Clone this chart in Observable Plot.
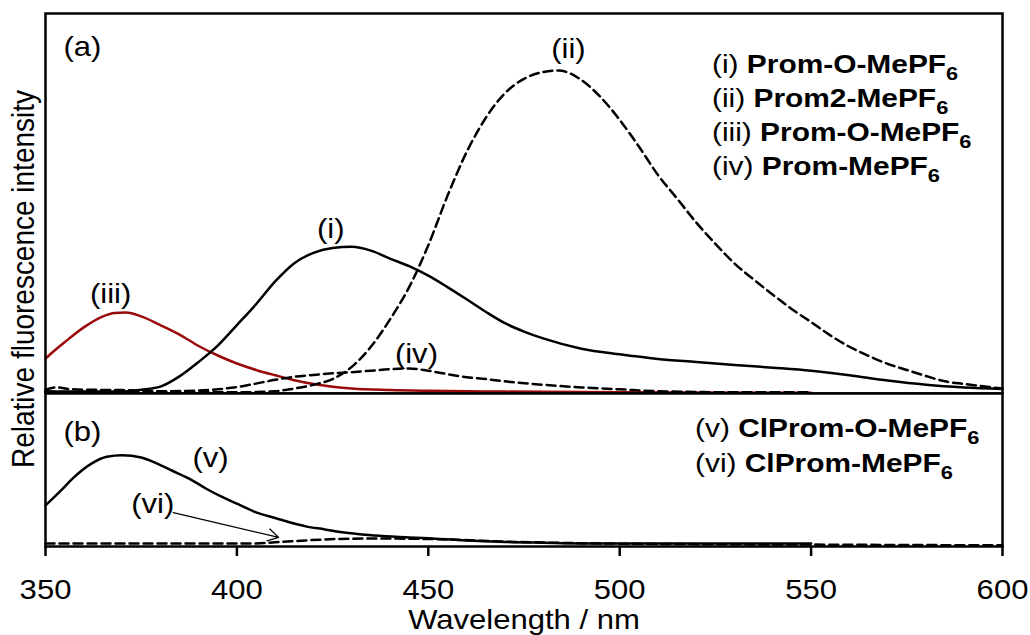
<!DOCTYPE html>
<html>
<head>
<meta charset="utf-8">
<script src="https://cdn.jsdelivr.net/npm/d3@7"></script>
<script src="https://cdn.jsdelivr.net/npm/@observablehq/plot@0.6"></script>
<style>
  body { margin: 0; background: #fff; }
  #wrap { position: relative; width: 1030px; height: 635px; overflow: hidden; background: #fff; }
  #wrap svg { position: absolute; left: 0; max-width: none; }
</style>
</head>
<body>
<div id="wrap"></div>
<script>
// ---------- data (wavelength in nm, relative intensity in arbitrary units) ----------
// (a) panel
const wl_i  = [350,360,370,375,380,385,390,395,400,405,410,415,420,425,430,435,440,445,450,455,460,465,470,475,480,490,500,510,520,530,540,550,560,570,580,590,600];
const int_i = [0.5,0.5,0.5,1.0,1.8,4.5,8.3,12.6,18,23.5,29.5,34.3,37,38.3,38.6,37.6,35.5,33.5,31,28,24.8,21.5,18.5,16.3,14.5,11.8,10.3,9.1,8.3,7.5,6.8,6.0,4.8,3.4,2.3,1.6,1.2];

const wl_ii  = [350,360,380,400,410,415,420,425,430,435,440,445,450,455,460,465,470,475,480,484,490,495,500,505,510,515,520,525,530,535,540,545,550,555,560,565,570,575,580,585,590,595,600];
const int_ii = [0.5,0.3,0.3,0.3,0.6,1.3,2.3,3.8,7,12.3,19.5,28,39,52,63.5,72.5,79,82.8,84.6,85,82.5,78,72,65,57.5,51.3,45,39.4,34.2,30,26,22.2,18.8,15.3,12.3,9.9,7.8,6.2,4.6,3.2,2.5,1.9,1.3];

const wl_iii  = [350,352,355,360,365,368,371,375,380,385,390,395,400,405,410,415,420,425,430,440,450,470,500,550];
const int_iii = [9.2,11,13.5,17.4,20.3,21.2,21.3,20.3,18,15.5,12.5,10,7.9,6.2,4.8,3.5,2.5,1.8,1.3,0.9,0.7,0.5,0.3,0.2];

const wl_iv  = [350,353,356,360,370,380,390,395,400,405,410,415,420,425,430,435,440,445,450,455,460,465,470,480,490,500,510,520,535,550];
const int_iv = [1.0,1.6,1.2,1.0,0.9,0.6,0.8,1.1,1.7,2.6,3.6,4.4,4.9,5.3,5.6,6.0,6.4,6.6,6.0,5.1,4.3,3.8,3.2,2.3,1.6,1.1,0.6,0.4,0.3,0.3];

// (b) panel
const wl_v  = [350,354,357,362,366,370,375,379,383,388,392,396,401,405,410,414,418,423,427,436,445,453,460,470,480,495,520,550];
const int_v = [10.8,14.7,17.8,21.8,23.6,24,23.4,21.9,20,17.6,15.2,13.1,10.8,9,7.5,6.3,5.3,4.5,3.8,2.9,2.4,2.0,1.6,1.2,1.0,0.8,0.8,0.8];

const wl_vi  = [350,370,390,405,410,418,427,436,453,470,495,550,600];
const int_vi = [0.8,0.8,0.8,0.8,1.1,1.6,2.0,2.1,1.9,1.3,0.8,0.5,0.3];

const xTicks = [350,400,450,500,550,600];

// labels
const panelTags   = ["(a)", "(b)"];
const legendTagsA  = ["(i)", "(ii)", "(iii)", "(iv)"];
const legendNamesA = ["Prom-O-MePF", "Prom2-MePF", "Prom-O-MePF", "Prom-MePF"];
const legendTagsB  = ["(v)", "(vi)"];
const legendNamesB = ["ClProm-O-MePF", "ClProm-MePF"];
const legendSub = "6";
const curveLabelsA = [
  {t: "(i)",   wl: 424.5, v: 40.8},
  {t: "(ii)",  wl: 486.6, v: 88.4},
  {t: "(iii)", wl: 367.0, v: 23.7},
  {t: "(iv)",  wl: 446.9, v: 7.9}
];
const curveLabelsB = [
  {t: "(v)",  wl: 393.1, v: 20.8},
  {t: "(vi)", wl: 378.0, v: 8.7}
];
const arrowB = [{wl1: 383.4, v1: 8.9, wl2: 410.9, v2: 2.4}];
const xLabel = "Wavelength / nm";
const yLabel = "Relative fluorescence intensity";

// ---------- build ----------
const rows = (wl, val) => wl.map((w, k) => ({wl: w, v: val[k]}));
const RED = "#9a0a0a";
const LW = 2.5;
const DASH = "9,5";
const FONT = "'Liberation Sans', Arial, Helvetica, sans-serif";
const STRETCH = 1.15;

const wrap = document.getElementById("wrap");

const topPlot = Plot.plot({
  width: 1030, height: 394,
  marginTop: 13, marginBottom: 1, marginLeft: 45, marginRight: 28,
  x: {domain: [350, 600], axis: null},
  y: {domain: [0, 100], axis: null},
  style: {fontFamily: FONT, fontSize: "27px", background: "transparent", color: "black"},
  marks: [
    Plot.line(rows(wl_iii, int_iii), {x: "wl", y: "v", stroke: RED, strokeWidth: LW, curve: "monotone-x"}),
    Plot.line(rows(wl_iv, int_iv), {x: "wl", y: "v", stroke: "black", strokeWidth: LW, strokeDasharray: DASH, curve: "monotone-x"}),
    Plot.line(rows(wl_ii, int_ii), {x: "wl", y: "v", stroke: "black", strokeWidth: LW, strokeDasharray: DASH, curve: "monotone-x"}),
    Plot.line(rows(wl_i, int_i), {x: "wl", y: "v", stroke: "black", strokeWidth: LW, curve: "monotone-x"}),
    Plot.frame({stroke: "black", strokeWidth: 2.5}),
    Plot.text(curveLabelsA, {x: "wl", y: "v", text: "t", textAnchor: "middle", lineAnchor: "bottom", fill: "black"}),
    Plot.text([panelTags[0]], {text: d => d, frameAnchor: "top-left", dx: 18, dy: 42, textAnchor: "start", lineAnchor: "bottom", fill: "black"})
  ]
});
topPlot.style.top = "0px";

const bottomPlot = Plot.plot({
  width: 1030, height: 243,
  marginTop: 1, marginBottom: 89, marginLeft: 45, marginRight: 28,
  x: {domain: [350, 600]},
  y: {domain: [0, 153 / 3.8], axis: null},
  style: {fontFamily: FONT, fontSize: "27px", background: "transparent", color: "black"},
  marks: [
    Plot.line(rows(wl_vi, int_vi), {x: "wl", y: "v", stroke: "black", strokeWidth: LW, strokeDasharray: DASH, curve: "monotone-x"}),
    Plot.line(rows(wl_v, int_v), {x: "wl", y: "v", stroke: "black", strokeWidth: LW, curve: "monotone-x"}),
    Plot.arrow(arrowB, {x1: "wl1", y1: "v1", x2: "wl2", y2: "v2", stroke: "black", strokeWidth: 1.3, headLength: 14}),
    Plot.frame({stroke: "black", strokeWidth: 2.5}),
    Plot.axisX({ticks: xTicks, tickSize: 10, tickPadding: 42, strokeWidth: 2.5, label: null, fill: "black"}),
    Plot.text(curveLabelsB, {x: "wl", y: "v", text: "t", textAnchor: "middle", lineAnchor: "bottom", fill: "black"}),
    Plot.text([panelTags[1]], {text: d => d, frameAnchor: "top-left", dx: 18, dy: 47, textAnchor: "start", lineAnchor: "bottom", fill: "black"}),
    Plot.text([xLabel], {text: d => d, frameAnchor: "bottom", dy: 82, textAnchor: "middle", lineAnchor: "bottom", fill: "black"})
  ]
});
bottomPlot.style.top = "392px";

// legends with bold names and subscripts
function addLegend(svg, tags, names, x0, y0, dy) {
  const g = d3.select(svg).append("g")
    .attr("font-size", 26).attr("fill", "black").attr("font-family", FONT)
    .attr("text-anchor", "start");
  tags.forEach((tag, k) => {
    const t = g.append("text").attr("text-anchor", "start").attr("transform", `translate(${x0},${y0 + k * dy})`);
    t.append("tspan").text(tag + " ");
    t.append("tspan").attr("font-weight", "bold").text(names[k]);
    t.append("tspan").attr("font-weight", "bold").attr("font-size", 19).attr("dy", 7).text(legendSub);
  });
}
addLegend(topPlot, legendTagsA, legendNamesA, 712, 73, 34);
addLegend(bottomPlot, legendTagsB, legendNamesB, 695, 437 - 392, 35);

// horizontal stretch of the text to match the reference's proportions
function stretch(svg) {
  d3.select(svg).selectAll("text").each(function () {
    const t = this.getAttribute("transform") || "";
    const x = +this.getAttribute("x") || 0, y = +this.getAttribute("y") || 0;
    this.removeAttribute("x"); this.removeAttribute("y");
    this.setAttribute("transform", `${t} translate(${x},${y}) scale(${STRETCH},1)`);
  });
}
stretch(topPlot);
stretch(bottomPlot);

// y-axis title spanning both panels
const ysvg = d3.create("svg").attr("width", 1030).attr("height", 635).style("top", "0px").style("pointer-events", "none");
ysvg.append("text")
  .attr("transform", `translate(34,279) rotate(-90) scale(1,${STRETCH})`)
  .attr("text-anchor", "middle")
  .attr("font-family", FONT)
  .attr("font-size", 28)
  .attr("fill", "black")
  .text(yLabel);

wrap.appendChild(topPlot);
wrap.appendChild(bottomPlot);
wrap.appendChild(ysvg.node());
</script>
</body>
</html>
